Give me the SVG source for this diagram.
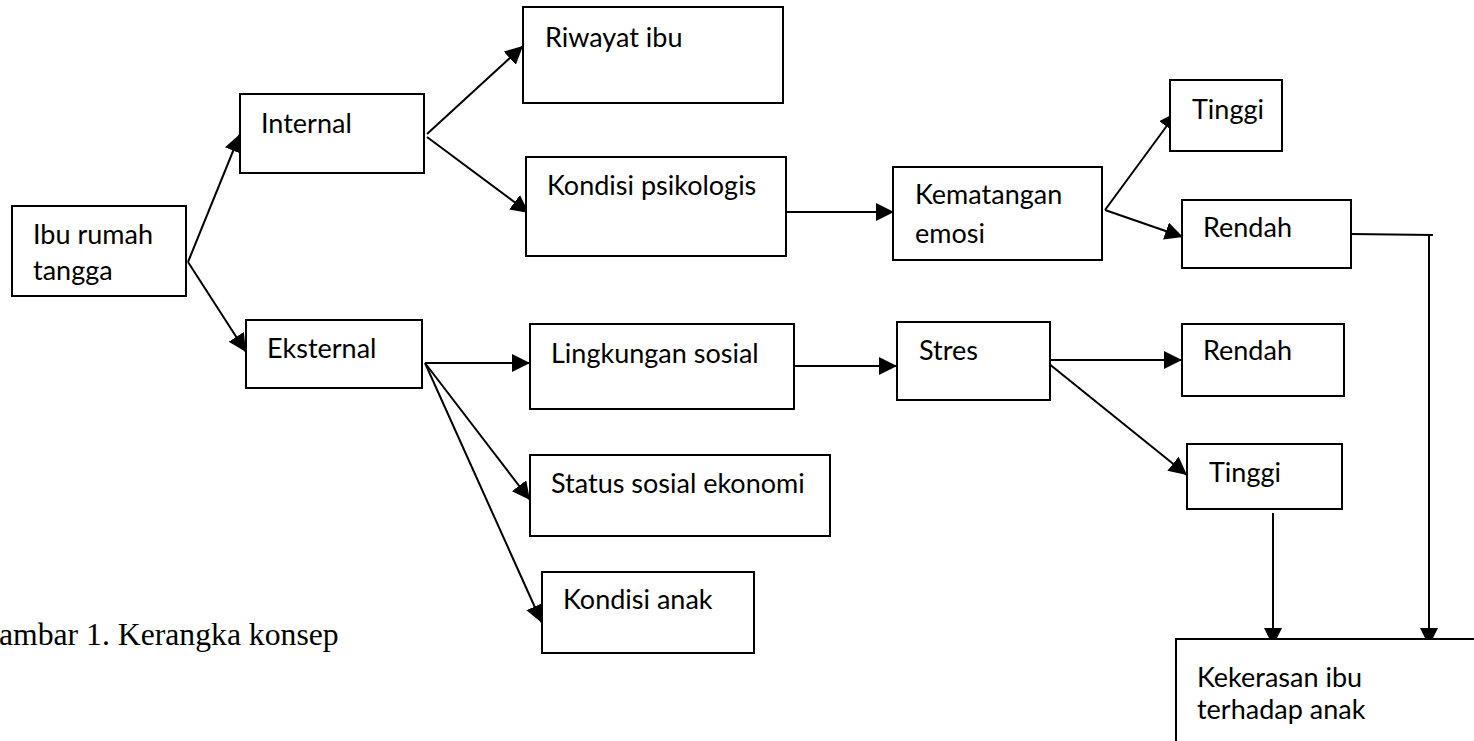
<svg xmlns="http://www.w3.org/2000/svg" width="1474" height="741" viewBox="0 0 1474 741">
<style>
.box{fill:#fff;stroke:#000;stroke-width:2}
.t{font-family:Lato,"Open Sans","Liberation Sans",sans-serif;font-size:27px;fill:#000}
.c{fill:none;stroke:#000;stroke-width:2}
.cap{font-family:"Liberation Serif","Times New Roman",serif;font-size:31.7px;fill:#000}
</style>
<defs>
<marker id="ah" markerUnits="userSpaceOnUse" markerWidth="20" markerHeight="20" refX="18" refY="9" orient="auto">
<path d="M0,0 L18,9 L0,18 z" fill="#000"/>
</marker>
<clipPath id="clipIbu"><rect x="12" y="206" width="174" height="79"/></clipPath>
</defs>
<rect width="1474" height="741" fill="#fff"/>

<g id="connectors">
<path class="c" d="M188,262 L240,134" marker-end="url(#ah)"/>
<path class="c" d="M188,262 L246,352" marker-end="url(#ah)"/>
<path class="c" d="M427,134 L523,46" marker-end="url(#ah)"/>
<path class="c" d="M427,137 L529,213" marker-end="url(#ah)"/>
<path class="c" d="M786,212 L894,212" marker-end="url(#ah)"/>
<path class="c" d="M1105,210 L1177,112" marker-end="url(#ah)"/>
<path class="c" d="M1105,210 L1183,237" marker-end="url(#ah)"/>
<path class="c" d="M1351,234 L1433,235"/>
<path class="c" d="M1429,235 L1429,646" marker-end="url(#ah)"/>
<path class="c" d="M425,363 L530,363" marker-end="url(#ah)"/>
<path class="c" d="M425,363 L530,500" marker-end="url(#ah)"/>
<path class="c" d="M425,363 L542,623" marker-end="url(#ah)"/>
<path class="c" d="M794,366 L897,366" marker-end="url(#ah)"/>
<path class="c" d="M1050,360 L1182,360" marker-end="url(#ah)"/>
<path class="c" d="M1048,363 L1187,475" marker-end="url(#ah)"/>
<path class="c" d="M1273,513 L1273,646" marker-end="url(#ah)"/>
</g>

<g id="node-ibu">
<rect class="box" x="12" y="206" width="174" height="90"/>
<g clip-path="url(#clipIbu)">
<text class="t" x="33" y="244">Ibu rumah</text>
<text class="t" x="33" y="280">tangga</text>
</g>
</g>
<g id="node-internal">
<rect class="box" x="240" y="94" width="184" height="79"/>
<text class="t" x="261" y="133">Internal</text>
</g>
<g id="node-eksternal">
<rect class="box" x="246" y="320" width="176" height="68"/>
<text class="t" x="267" y="358">Eksternal</text>
</g>
<g id="node-riwayat">
<rect class="box" x="523" y="7" width="260" height="96"/>
<text class="t" x="545" y="47">Riwayat ibu</text>
</g>
<g id="node-kondisi-psikologis">
<rect class="box" x="526" y="157" width="260" height="99"/>
<text class="t" x="547" y="195">Kondisi psikologis</text>
</g>
<g id="node-kematangan">
<rect class="box" x="893" y="167" width="209" height="93"/>
<text class="t" x="915" y="204">Kematangan</text>
<text class="t" x="915" y="243">emosi</text>
</g>
<g id="node-tinggi1">
<rect class="box" x="1170" y="80" width="112" height="71"/>
<text class="t" x="1192" y="119">Tinggi</text>
</g>
<g id="node-rendah1">
<rect class="box" x="1182" y="200" width="169" height="68"/>
<text class="t" x="1203" y="237">Rendah</text>
</g>
<g id="node-lingkungan">
<rect class="box" x="530" y="324" width="264" height="85"/>
<text class="t" x="551" y="363">Lingkungan sosial</text>
</g>
<g id="node-status">
<rect class="box" x="530" y="455" width="300" height="81"/>
<text class="t" x="551" y="493">Status sosial ekonomi</text>
</g>
<g id="node-kondisi-anak">
<rect class="box" x="542" y="572" width="212" height="81"/>
<text class="t" x="563" y="609">Kondisi anak</text>
</g>
<g id="node-stres">
<rect class="box" x="897" y="322" width="153" height="78"/>
<text class="t" x="919" y="360">Stres</text>
</g>
<g id="node-rendah2">
<rect class="box" x="1182" y="324" width="162" height="72"/>
<text class="t" x="1203" y="360">Rendah</text>
</g>
<g id="node-tinggi2">
<rect class="box" x="1187" y="444" width="155" height="65"/>
<text class="t" x="1209" y="482">Tinggi</text>
</g>
<g id="node-kekerasan">
<rect class="box" x="1176" y="639" width="320" height="120"/>
<text class="t" x="1197" y="687">Kekerasan ibu</text>
<text class="t" x="1197" y="719">terhadap anak</text>
</g>
<text class="cap" x="-1" y="645">ambar 1. Kerangka konsep</text>
</svg>
